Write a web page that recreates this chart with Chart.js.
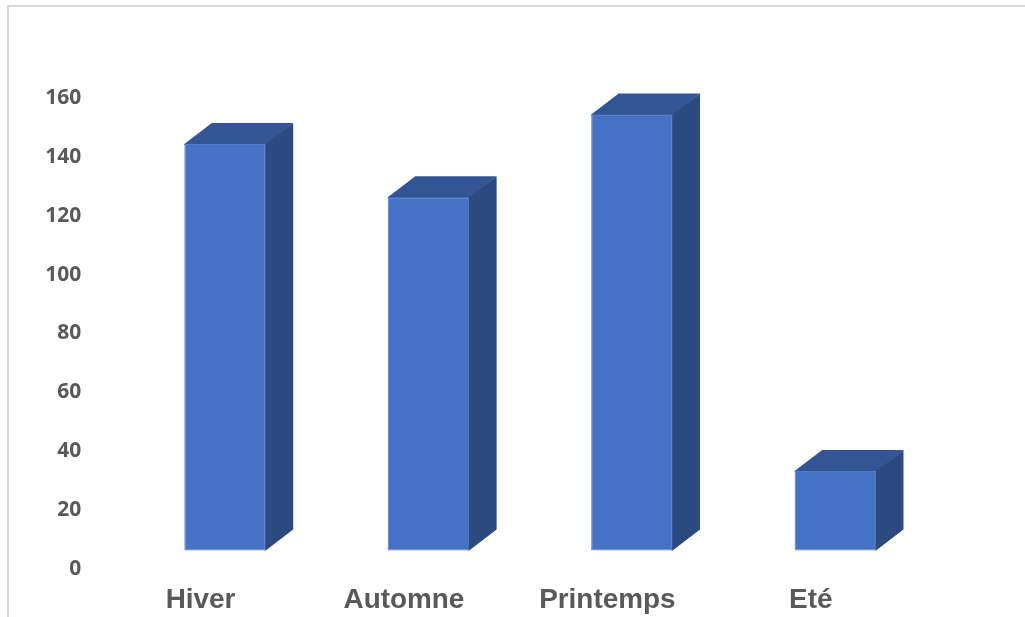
<!DOCTYPE html>
<html>
<head>
    <meta charset="UTF-8">
    <title>Chart</title>
    <script src="https://cdn.jsdelivr.net/npm/chart.js@4/dist/chart.umd.min.js"></script>
    <style>
        html, body { margin: 0; padding: 0; background: #fff; overflow: hidden; }
        canvas { display: block; }
    </style>
</head>
<body>
    <canvas id="chart" width="1025" height="617"></canvas>

    <script>
        const categories = ['Hiver', 'Automne', 'Printemps', 'Eté'];
        const values = [143.7, 125.6, 153.7, 32.6];
        const barBase = 5.6;
        const yTicks = [0, 20, 40, 60, 80, 100, 120, 140, 160];

        // fake 3D: top and side faces hung on each bar the library laid out
        const depthX = 27.5, depthY = 21;
        const extrude = {
            id: 'extrude',
            beforeDatasetsDraw(chart) {
                const c = chart.ctx;
                chart.getDatasetMeta(0).data.forEach(bar => {
                    const l = bar.x - bar.width / 2, r = bar.x + bar.width / 2;
                    const t = bar.y, b = bar.base;
                    c.fillStyle = '#335593';
                    c.beginPath();
                    c.moveTo(l, t + 1);
                    c.lineTo(l, t);
                    c.lineTo(l + depthX, t - depthY);
                    c.lineTo(r + depthX, t - depthY);
                    c.lineTo(r, t + 1);
                    c.closePath();
                    c.fill();
                    c.fillStyle = '#2A4A80';
                    c.beginPath();
                    c.moveTo(r - 1, t);
                    c.lineTo(r, t);
                    c.lineTo(r + depthX, t - depthY);
                    c.lineTo(r + depthX, b - depthY);
                    c.lineTo(r, b);
                    c.lineTo(r - 1, b);
                    c.closePath();
                    c.fill();
                });
            }
        };

        // grey frame, only top and left are visible in the crop
        const frame = {
            id: 'frame',
            beforeDraw(chart) {
                const c = chart.ctx;
                c.fillStyle = '#D9D9D9';
                c.fillRect(7, 5, chart.width - 7, 2);
                c.fillRect(7, 5, 2, chart.height - 5);
            }
        };

        new Chart(document.getElementById('chart'), {
            type: 'bar',
            data: {
                labels: categories,
                datasets: [{
                    data: values,
                    base: barBase,
                    backgroundColor: '#4472C4',
                    borderColor: '#4F7BC9',
                    borderWidth: 1,
                    borderSkipped: false,
                    barPercentage: 0.4,
                    categoryPercentage: 1
                }]
            },
            options: {
                responsive: false,
                animation: false,
                layout: { padding: { top: 96, right: 88, left: 0, bottom: 0 } },
                plugins: { legend: { display: false }, tooltip: { enabled: false } },
                scales: {
                    x: {
                        grid: { display: false, drawTicks: false },
                        border: { display: false },
                        afterFit(s) { s.height = 50; },
                        ticks: {
                            color: '#595959',
                            font: { family: 'Liberation Sans', size: 27.9, weight: 'bold' },
                            labelOffset: -24.5,
                            padding: 16.5,
                            maxRotation: 0
                        }
                    },
                    y: {
                        min: 0,
                        max: 160,
                        grid: { display: false, drawTicks: false },
                        border: { display: false },
                        // tick padding also counts as vertical scale padding, drop that
                        afterFit(s) {
                            s.width = 123.3;
                            s.paddingTop = 0;
                            s.paddingBottom = 0;
                        },
                        afterBuildTicks(s) { s.ticks = yTicks.map(v => ({ value: v })); },
                        ticks: {
                            color: '#595959',
                            font: { family: 'Open Sans', size: 21, weight: 'bold' },
                            padding: 42,
                            labelOffset: 2
                        }
                    }
                }
            },
            plugins: [frame, extrude]
        });
    </script>
</body>
</html>
